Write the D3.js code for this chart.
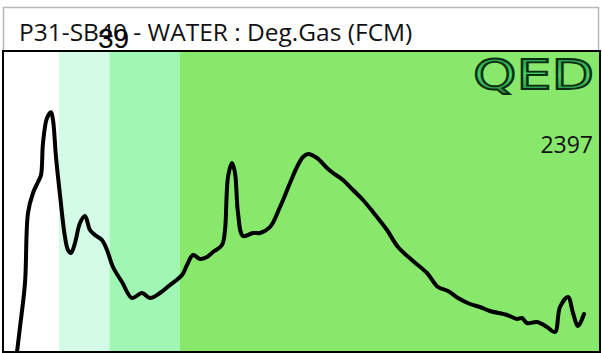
<!DOCTYPE html>
<html>
<head>
<meta charset="utf-8">
<script src="https://cdn.jsdelivr.net/npm/d3@7"></script>
<style>
  body { margin: 0; background: #fff; }
  svg { display: block; }
</style>
</head>
<body>
<div id="chart"></div>
<script>
// channels (x) and counts (y)
const channels = [8.5, 10, 12.5, 14, 16.5, 19, 20.5, 21.5, 23.5, 25.5, 26.5, 28, 30, 32.5, 34, 35.5,
  37.5, 40, 42.5, 45, 47.5, 51, 53.5, 56.5, 61, 66, 71, 75, 80, 85, 91, 93.5, 96.5, 100, 103.5,
  106.5, 111, 112.5, 114, 116, 117.5, 119, 121.5, 126.5, 130, 135, 140, 145, 148.5, 151.5, 154,
  158.5, 163.5, 166.5, 171.5, 176.5, 181.5, 186.5, 193.5, 199, 206.5, 213.5, 219, 224, 229, 235,
  240, 245, 253.5, 258.5, 261, 263.5, 268.5, 273.5, 277.5, 280, 284, 286.5, 289, 292];
const counts = [0, 250, 690, 1390, 1590, 1700, 1770, 2090, 2340, 2397, 2320, 1950, 1570, 1150, 1020, 990,
  1090, 1290, 1360, 1220, 1170, 1120, 1020, 850, 700, 540, 590, 540, 590, 670, 770, 870, 970, 930, 950,
  1000, 1070, 1220, 1750, 1890, 1790, 1390, 1160, 1190, 1190, 1250, 1450, 1690, 1850, 1950, 1980,
  1940, 1840, 1790, 1720, 1620, 1520, 1400, 1220, 1050, 910, 790, 650, 610, 540, 480,
  450, 410, 370, 330, 340, 290, 300, 250, 200, 450, 550, 390, 260, 380];

// gate bands (channel start, end)
const bandStarts = [0, 29.5, 54.75, 90];
const bandEnds = [29.5, 54.75, 90, 300];
const bandColors = ["#ffffff", "#d3fbe5", "#a0f7b4", "#88e86c"];

const title = "P31-SB40 - WATER : Deg.Gas (FCM)";
const overlayLabel = "39";
const maxLabel = "2397";

const W = 602, H = 353;
const svg = d3.select("#chart").append("svg")
  .attr("width", W)
  .attr("height", H);

// title box
svg.append("rect")
  .attr("x", 3.5).attr("y", 7.5)
  .attr("width", 595).attr("height", 345)
  .attr("fill", "#fff")
  .attr("stroke", "#b8b8b8")
  .attr("stroke-width", 1.5);

svg.append("text")
  .attr("x", 19).attr("y", 41)
  .attr("font-family", "Open Sans")
  .attr("font-size", 24.5)
  .attr("fill", "#111")
  .text(title);

// plot area
const plot = { left: 3, top: 51, right: 600, bottom: 352 };

const x = d3.scaleLinear().domain([0, 300]).range([0, 600]);
const y = d3.scaleLinear().domain([0, 3000]).range([352, 52]);

svg.append("clipPath").attr("id", "clip")
  .append("rect")
  .attr("x", plot.left).attr("y", plot.top)
  .attr("width", plot.right - plot.left).attr("height", plot.bottom - plot.top);

const g = svg.append("g").attr("clip-path", "url(#clip)");

g.selectAll("rect.band")
  .data(bandStarts)
  .join("rect")
  .attr("class", "band")
  .attr("x", (d, i) => x(d))
  .attr("y", plot.top)
  .attr("width", (d, i) => x(bandEnds[i]) - x(d))
  .attr("height", plot.bottom - plot.top)
  .attr("fill", (d, i) => bandColors[i]);

// QED logo
const defs = svg.append("defs");
const grad = defs.append("linearGradient").attr("id", "qed")
  .attr("x1", 0).attr("y1", 0).attr("x2", 0).attr("y2", 1);
grad.append("stop").attr("offset", "0%").attr("stop-color", "#1f8a3c");
grad.append("stop").attr("offset", "50%").attr("stop-color", "#46d46a");
grad.append("stop").attr("offset", "100%").attr("stop-color", "#1a7a34");

g.append("text")
  .attr("x", 473).attr("y", 89)
  .attr("font-family", "DejaVu Sans")
  .attr("font-size", 40)
  .attr("textLength", 121)
  .attr("lengthAdjust", "spacingAndGlyphs")
  .attr("fill", "url(#qed)")
  .attr("stroke", "#0c2e14")
  .attr("stroke-width", 1.8)
  .text("QED");

g.append("text")
  .attr("x", 593).attr("y", 153)
  .attr("text-anchor", "end")
  .attr("font-family", "Open Sans")
  .attr("font-size", 23)
  .attr("fill", "#111")
  .text(maxLabel);

const line = d3.line()
  .x((d, i) => x(channels[i]))
  .y(d => y(d))
  .curve(d3.curveCatmullRom);

g.append("path")
  .datum(counts)
  .attr("d", line)
  .attr("fill", "none")
  .attr("stroke", "#000")
  .attr("stroke-width", 4)
  .attr("stroke-linejoin", "round")
  .attr("stroke-linecap", "round");

// frame
svg.append("rect")
  .attr("x", plot.left).attr("y", plot.top)
  .attr("width", plot.right - plot.left).attr("height", plot.bottom - plot.top)
  .attr("fill", "none")
  .attr("stroke", "#000")
  .attr("stroke-width", 2);

// stray label over the title
svg.append("text")
  .attr("x", 98).attr("y", 48)
  .attr("font-family", "Liberation Sans")
  .attr("font-size", 28)
  .attr("fill", "#000")
  .text(overlayLabel);
</script>
</body>
</html>
